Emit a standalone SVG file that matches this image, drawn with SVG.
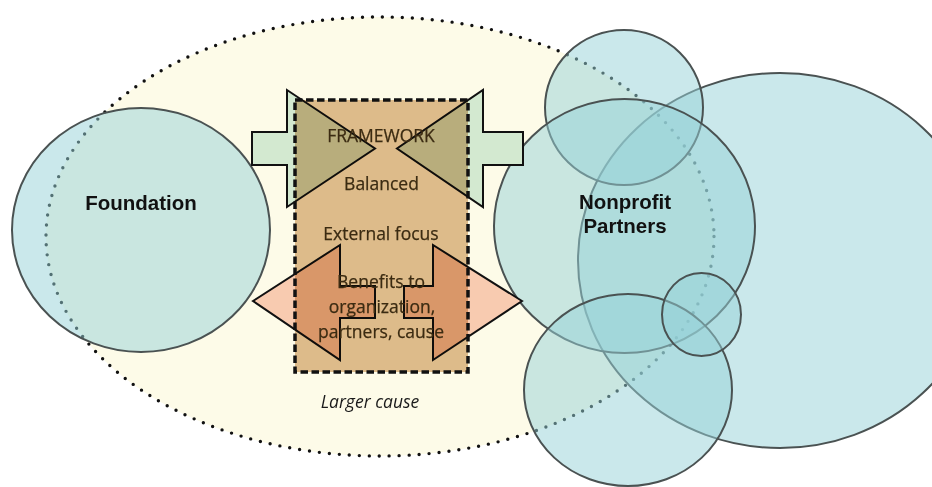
<svg xmlns="http://www.w3.org/2000/svg" width="932" height="487" viewBox="0 0 932 487">
  <style>
    .bubble { fill: rgb(150,210,215); fill-opacity: 0.5; stroke: #4a5252; stroke-width: 2; }
    .cause { fill: #fdfbe8; stroke: #111; stroke-width: 3.4; stroke-linecap: round; stroke-dasharray: 0 10; }
    .frame { fill: #dfbe98; mix-blend-mode: multiply; }
    .frame-edge { fill: none; stroke: #111; stroke-width: 3.5; stroke-dasharray: 7.5 3.5; }
    .arrow-in { fill: #d3e9d0; stroke: #111; stroke-width: 2; stroke-linejoin: miter; }
    .arrow-out { fill: #f8cbb0; stroke: #111; stroke-width: 2; stroke-linejoin: miter; }
    .label { font-family: "Liberation Sans", Arial, sans-serif; font-weight: bold; font-size: 20.5px; fill: #111; text-anchor: middle; }
    .inner { font-family: "Open Sans", "Liberation Sans", sans-serif; font-size: 17.5px; fill: #3b2b12; stroke: #3b2b12; stroke-width: 0.25; text-anchor: middle; }
    .cause-label { font-family: "Open Sans", "Liberation Sans", sans-serif; font-style: italic; font-size: 17.5px; fill: #1a1a1a; text-anchor: middle; }
  </style>

  <rect width="932" height="487" fill="#ffffff"/>

  <!-- larger cause: dotted ellipse enclosing everything -->
  <g id="larger-cause">
    <ellipse class="cause" cx="380" cy="236.5" rx="334" ry="219.5"/>
  </g>

  <!-- foundation -->
  <g id="foundation">
    <ellipse class="bubble" cx="141" cy="230" rx="129" ry="122"/>
    <text class="label" x="141" y="210">Foundation</text>
  </g>

  <!-- nonprofit partners cluster -->
  <g id="partners">
    <ellipse class="bubble" cx="780" cy="260.5" rx="202" ry="187.5"/>
    <ellipse class="bubble" cx="624" cy="107.5" rx="79" ry="77.5"/>
    <ellipse class="bubble" cx="624.5" cy="226" rx="130.5" ry="127"/>
    <ellipse class="bubble" cx="628" cy="390" rx="104" ry="96"/>
    <ellipse class="bubble" cx="701.5" cy="314.5" rx="39.5" ry="41.5"/>
    <text class="label" x="625" y="209">Nonprofit</text>
    <text class="label" x="625" y="233">Partners</text>
  </g>

  <!-- arrows into and out of the framework -->
  <g id="connectors">
    <polygon class="arrow-in" points="252,132 287,132 287,90 375,148.5 287,207 287,165 252,165"/>
    <polygon class="arrow-in" points="523,132 483,132 483,90 397,148.5 483,207 483,165 523,165"/>
    <polygon class="arrow-out" points="253,301 340,245 340,286 375,286 375,318 340,318 340,360"/>
    <polygon class="arrow-out" points="522,301 433,245 433,286 404,286 404,318 433,318 433,360"/>
  </g>

  <!-- framework box -->
  <g id="framework">
    <rect class="frame" x="295" y="100" width="173" height="272"/>
    <rect class="frame-edge" x="295" y="100" width="173" height="272"/>
    <text class="inner" x="381" y="142">FRAMEWORK</text>
    <text class="inner" x="381.5" y="190">Balanced</text>
    <text class="inner" x="381" y="240">External focus</text>
    <text class="inner" x="381" y="288">Benefits to</text>
    <text class="inner" x="382" y="313">organization,</text>
    <text class="inner" x="381" y="338">partners, cause</text>
  </g>

  <g id="cause-caption">
    <text class="cause-label" x="370" y="408">Larger cause</text>
  </g>
</svg>
